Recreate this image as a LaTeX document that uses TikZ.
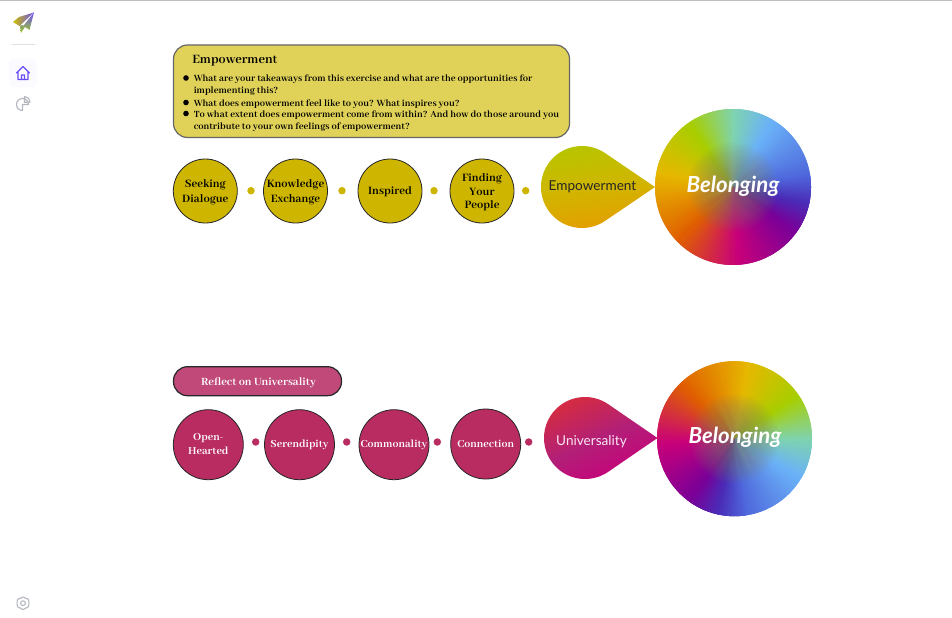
\documentclass[tikz,border=0pt]{standalone}
\usepackage{fontspec}
\newfontfamily\bookfont{Abhaya Libre}[BoldFont={Abhaya Libre Bold}]
\newfontfamily\plainfont{Lato}
\definecolor{goldfill}{HTML}{CDB500}
\definecolor{goldbox}{HTML}{E0D258}
\definecolor{wineFill}{HTML}{B82C62}
\definecolor{winebox}{HTML}{C0497A}
\definecolor{winemid}{HTML}{B21F78}
\definecolor{hubgray}{HTML}{84846C}
\definecolor{wA}{HTML}{E06000}
\definecolor{wB}{HTML}{E6B800}
\definecolor{wC}{HTML}{A8CE00}
\definecolor{wD}{HTML}{7FD3B0}
\definecolor{wE}{HTML}{6AB2F8}
\definecolor{wF}{HTML}{4F68DC}
\definecolor{wG}{HTML}{4A2CB8}
\definecolor{wH}{HTML}{7A0098}
\definecolor{wI}{HTML}{C8007A}
\definecolor{iconblue}{HTML}{6A4CF5}
\definecolor{icongray}{HTML}{B4B6C0}
\tikzset{
  stepgold/.style={circle,draw=black!85,fill=goldfill,line width=0.6pt,minimum size=48pt,inner sep=0pt,align=center,text=black,font=\bookfont\bfseries\fontsize{9.3}{11}\selectfont},
  stepwine/.style={circle,draw=black!85,fill=wineFill,line width=0.6pt,minimum size=52.5pt,inner sep=0pt,align=center,text=white,font=\bookfont\bfseries\fontsize{8.9}{11}\selectfont},
  dotgold/.style={circle,fill=goldfill,minimum size=5.6pt,inner sep=0pt},
  dotwine/.style={circle,fill=wineFill,minimum size=5.6pt,inner sep=0pt},
  bullet/.style={circle,fill=black,minimum size=4.2pt,inner sep=0pt},
  asktext/.style={anchor=base west,inner sep=0pt,text=black,font=\bookfont\bfseries\fontsize{7.85}{9}\selectfont},
  droplabel/.style={font=\plainfont\fontsize{10.2}{12}\selectfont,inner sep=0pt},
  hublabel/.style={text=white,inner sep=0pt,font=\plainfont\bfseries\itshape\fontsize{16.6}{18}\selectfont},
}
% text of a step: keeps the circle at its own size, optional drop
\newcommand{\steptext}[2][0pt]{\raisebox{0pt}[\dimexpr\height+#1\relax][\dimexpr\depth-#1\relax]{\makebox[0pt]{\shortstack{#2}}}}
% colour wheel: centre, radius, turn
\newcommand{\colorwheel}[4]{%
  \begin{scope}
    \clip (#1,#2) circle (#3);
    \begin{scope}[shift={(#1,#2)},rotate=-#4,yscale=-1]
      \foreach \a/\ca/\b/\cb in {-135/wA/-190/wB,-190/wB/-235/wC,-235/wC/-270/wD,-270/wD/-300/wE,-300/wE/-350/wF,-350/wF/-372/wG,-372/wG/-395/wH,-395/wH/-445/wI,-445/wI/-495/wA}{
        \foreach \t in {0,4,...,96}{
          \pgfmathsetmacro{\sa}{\a+(\b-\a)*\t/100}
          \pgfmathsetmacro{\sb}{\a+(\b-\a)*(\t+4)/100-2}
          \fill[\cb!\t!\ca] (0,0) -- (\sa:90) -- (\sb:90) -- cycle;
        }
      }
    \end{scope}
    \foreach \r in {1.5,3,...,45}
      \fill[hubgray,opacity=0.04] (#1,#2) circle (\r);
  \end{scope}
}
\begin{document}
\begin{tikzpicture}[x=0.75pt,y=-0.75pt,line cap=round,line join=round]
  \useasboundingbox (0,0) rectangle (952,617);
  \fill[white] (0,0) rectangle (952,617);
  \draw[black!25,line width=0.75pt] (0,0.4)--(952,0.4);

  % side bar
  \shade[left color=wB!60!wC,right color=iconblue] (34,12.5)--(19,17)--(13,22)--(19.5,26)--cycle;
  \shade[top color=iconblue,bottom color=wC!80!wD] (34,12.5)--(20,26)--(21,33)--(25,27)--(29.5,30)--cycle;
  \fill[white] (33,13.5)--(21,25)--(23.5,25.5)--cycle;
  \draw[black!12,line width=0.75pt] (12,44.5)--(35,44.5);
  \fill[black!2!blue!2!white,rounded corners=4.5pt] (9,59) rectangle (37,87);
  \draw[iconblue,line width=0.95pt] (16.5,73)--(23,66.5)--(29.5,73) (18,71.5)--(18,79.5)--(28,79.5)--(28,71.5) (21.5,79.5)--(21.5,75)--(24.5,75)--(24.5,79.5);
  \draw[icongray,line width=0.85pt] (28.5,104.5) arc[start angle=0,delta angle=270,radius=4.5pt]--(22.5,104.5)--cycle;
  \draw[icongray,line width=0.85pt] (24.5,96.5) arc[start angle=90,delta angle=-90,radius=4.2pt]--(24.5,102.3)--cycle;
  \draw[icongray,line width=0.8pt,rounded corners=0.7pt] (23,596.5)--(25,598.2)--(28.5,599)--(29,603.2)--(28.5,607.2)--(25,608.2)--(23,610)--(21,608.2)--(17.5,607.2)--(17,603.2)--(17.5,599)--(21,598.2)--cycle;
  \draw[icongray,line width=0.8pt] (23,603.2) circle (2.4);

  % empowerment row
  \draw[draw=black!60,fill=goldbox,line width=0.9pt,rounded corners=10.5pt] (173.5,45) rectangle (569.5,137.5);
  \node[anchor=base west,inner sep=0pt,font=\bookfont\bfseries\fontsize{10.5}{12}\selectfont] (asktitle) at (192,63.5) {Empowerment};
  \node[bullet] (bulletA) at (186,78) {};
  \node[bullet] (bulletB) at (186,102.5) {};
  \node[bullet] (bulletC) at (186,113.5) {};
  \node[asktext] (lineA) at (193.5,81.5) {What are your takeaways from this exercise and what are the opportunities for};
  \node[asktext] (lineB) at (193.5,93.5) {implementing this?};
  \node[asktext] (lineC) at (193.5,106) {What does empowerment feel like to you? What inspires you?};
  \node[asktext] (lineD) at (193.5,117.5) {To what extent does empowerment come from within? And how do those around you};
  \node[asktext] (lineE) at (193.5,129.5) {contribute to your own feelings of empowerment?};

  \node[stepgold] (seeking) at (205.3,191) {\steptext[0.7pt]{Seeking\\[0.5pt]Dialogue}};
  \node[stepgold] (knowledge) at (295.5,191) {\steptext[0.7pt]{Knowledge\\[0.5pt]Exchange}};
  \node[stepgold] (inspired) at (390,191) {\steptext[0.9pt]{Inspired}};
  \node[stepgold] (finding) at (482,191) {\steptext[0.8pt]{Finding\\[0.5pt]Your\\[0.5pt]People}};
  \foreach \x/\n in {251/A,342/B,434/C,525.7/D}
    \node[dotgold] (gold\n) at (\x,190.7) {};

  \shade[top color=wC!60!goldfill,bottom color=wB!70!wA,middle color=goldfill!85!wB,shading angle=8] plot[domain=55.8:304.2,samples=60,variable=\s] ({582+41*cos(\s)},{187-41*sin(\s)}) -- (655,187) -- cycle;
  \node[droplabel,text=black!85] (dropgold) at (592.5,187) {Empowerment};
  \colorwheel{733}{187}{78}{0}
  \node[hublabel] (hubgold) at (733,186) {Belonging};

  % universality row
  \draw[draw=black!85,fill=winebox,line width=0.9pt,rounded corners=10.5pt] (173.5,366.7) rectangle (341.5,395.7);
  \node[font=\bookfont\bfseries\fontsize{9.15}{11}\selectfont,text=white,inner sep=0pt] (reflect) at (258.5,382.5) {Reflect on Universality};

  \node[stepwine] (open) at (208.3,444.7) {\steptext[-0.7pt]{Open-\\[0.5pt]Hearted}};
  \node[stepwine] (serendipity) at (299.5,444.7) {\steptext{Serendipity}};
  \node[stepwine] (commonality) at (394,444.7) {\steptext{Commonality}};
  \node[stepwine] (connection) at (485.7,444) {\steptext[-0.4pt]{Connection}};
  \foreach \x/\n in {255.7/A,346.7/B,437.3/C,528.7/D}
    \node[dotwine] (wine\n) at (\x,442) {};

  \shade[top color=wA!45!wI,bottom color=wI,middle color=winemid,shading angle=25] plot[domain=55.8:304.2,samples=60,variable=\s] ({585+41*cos(\s)},{438-41*sin(\s)}) -- (657.5,438) -- cycle;
  \node[droplabel,text=white!90!wI] (dropwine) at (591.5,441.5) {Universality};
  \colorwheel{734.5}{438.7}{77.5}{90}
  \node[hublabel] (hubwine) at (735,437.5) {Belonging};
\end{tikzpicture}
\end{document}
